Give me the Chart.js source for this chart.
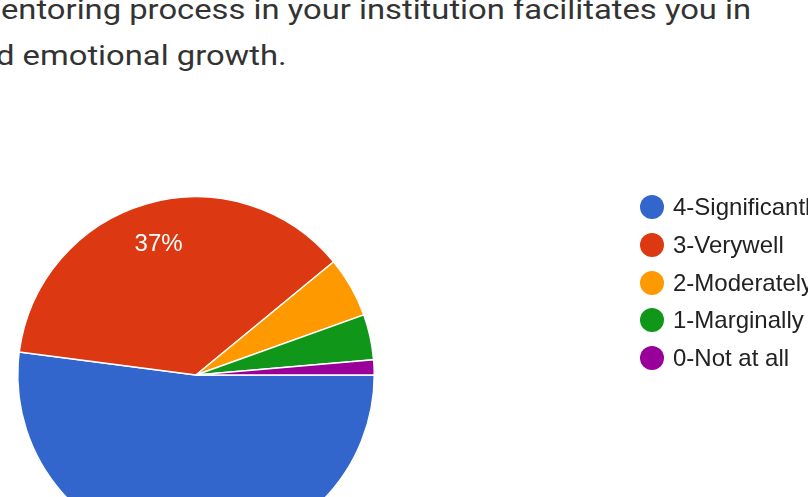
<!DOCTYPE html>
<html>
<head>
<meta charset="utf-8">
<script src="https://cdn.jsdelivr.net/npm/chart.js@4"></script>
<style>
  html, body { margin: 0; padding: 0; background: #fff; overflow: hidden; width: 808px; height: 497px; }
  #titulo { position: absolute; left: 0; top: 0; font-family: Roboto, sans-serif; font-size: 28px; color: #333; white-space: nowrap; }
  #titulo div { position: absolute; left: 0; transform: scaleX(1.17); transform-origin: 0 0; }
  #wrap { position: absolute; left: 0; top: 0; width: 808px; height: 600px; }
  #leyenda { position: absolute; left: 640px; top: 0; font-family: "Liberation Sans", Arial, sans-serif; font-size: 24px; color: #222; white-space: nowrap; }
  .item { position: absolute; left: 0; height: 24px; line-height: 24px; }
  .dot { position: absolute; left: 0; top: 0; width: 24px; height: 24px; border-radius: 50%; }
  .txt { position: absolute; left: 33px; top: 0; }
</style>
</head>
<body>
<div id="titulo">
  <div style="top:-7px; left:1px;">entoring process in your institution facilitates you in</div>
  <div style="top:39px; left:-4px;">d emotional growth.</div>
</div>
<div id="wrap"><canvas id="grafico" width="808" height="600"></canvas></div>
<div id="leyenda"></div>
<script>
// datos
const categorias = ["4-Significantly", "3-Verywell", "2-Moderately", "1-Marginally", "0-Not at all"];
const respuestas = [38, 27, 4, 3, 1];
const colores = ["#3366cc", "#dc3912", "#ff9900", "#109618", "#990099"];

window.addEventListener("load", () => {
    // leyenda en html
    const ley = document.querySelector("#leyenda");
    categorias.forEach((c, i) => {
        const el = document.createElement("div");
        el.className = "item";
        el.style.top = (195 + i * 37.8) + "px";
        el.innerHTML = '<span class="dot" style="background:' + colores[i] + '"></span><span class="txt">' + c + '</span>';
        ley.appendChild(el);
    });

    // porcentajes dentro de las porciones
    const etiquetas = {
        id: "etiquetas",
        afterDatasetsDraw(chart) {
            const ctx = chart.ctx;
            const meta = chart.getDatasetMeta(0);
            const total = respuestas.reduce((a, b) => a + b, 0);
            ctx.save();
            ctx.fillStyle = "#fff";
            ctx.font = "24px 'Liberation Sans', Arial, sans-serif";
            ctx.textAlign = "center";
            ctx.textBaseline = "middle";
            meta.data.forEach((arc, i) => {
                const pct = respuestas[i] / total * 100;
                if (pct < 10) return;
                const p = arc.getProps(["x", "y", "startAngle", "endAngle", "outerRadius"], true);
                const mid = (p.startAngle + p.endAngle) / 2;
                const r = p.outerRadius * 0.76;
                ctx.fillText(Math.round(pct) + "%", p.x + Math.cos(mid) * r, p.y + Math.sin(mid) * r);
            });
            ctx.restore();
        }
    };

    const ctx = document.querySelector("#grafico").getContext("2d");
    new Chart(ctx, {
        type: "pie",
        data: {
            labels: categorias,
            datasets: [{
                data: respuestas,
                backgroundColor: colores,
                borderColor: "#fff",
                borderWidth: 1.5,
                hoverOffset: 0
            }]
        },
        options: {
            responsive: false,
            animation: false,
            rotation: 90,
            layout: { padding: { left: 17, right: 433, top: 196, bottom: 46 } },
            plugins: {
                legend: { display: false },
                tooltip: { enabled: false }
            }
        },
        plugins: [etiquetas]
    });
});
</script>
</body>
</html>
